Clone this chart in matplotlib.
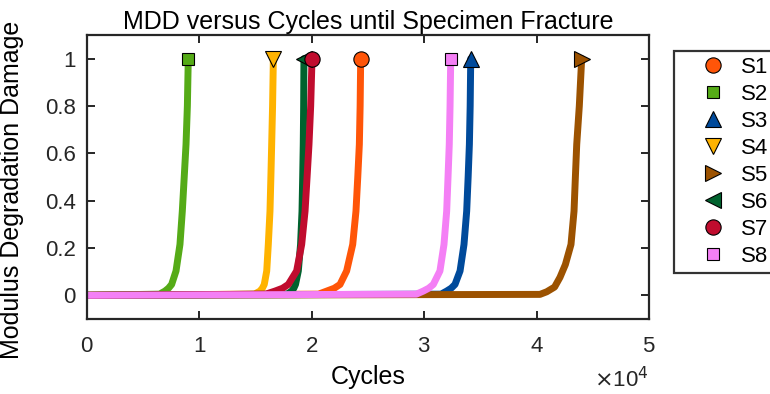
import matplotlib.pyplot as plt
from matplotlib.ticker import MultipleLocator

plt.rcParams['font.family'] = ['Liberation Sans', 'DejaVu Sans']

# values (cycles, damage) for each specimen
s1_cycles = [0, 20600, 21330, 22000, 22510, 23100, 23640, 23930, 24090, 24230, 24300, 24350]
s1_damage = [0, 0.005, 0.018, 0.03, 0.046, 0.103, 0.215, 0.356, 0.5, 0.638, 0.8, 1.0]
s2_cycles = [0, 6450, 6940, 7250, 7530, 7920, 8270, 8480, 8650, 8810, 8930, 9010]
s2_damage = [0, 0.005, 0.018, 0.03, 0.046, 0.103, 0.215, 0.356, 0.5, 0.638, 0.8, 1.0]
s3_cycles = [0, 31500, 32000, 32400, 32740, 33190, 33540, 33780, 33910, 34020, 34090, 34140]
s3_damage = [0, 0.005, 0.018, 0.03, 0.046, 0.103, 0.215, 0.356, 0.5, 0.638, 0.8, 1.0]
s4_cycles = [0, 14900, 15390, 15600, 15770, 15990, 16130, 16280, 16360, 16430, 16510, 16580]
s4_damage = [0, 0.005, 0.018, 0.03, 0.046, 0.103, 0.215, 0.356, 0.5, 0.638, 0.8, 1.0]
s5_cycles = [0, 40300, 40900, 41600, 42080, 42560, 43060, 43330, 43450, 43570, 43800, 44010]
s5_damage = [0, 0.004, 0.015, 0.035, 0.076, 0.13, 0.215, 0.356, 0.5, 0.638, 0.8, 1.0]
s6_cycles = [0, 17800, 18210, 18400, 18550, 18800, 19000, 19130, 19190, 19240, 19275, 19300]
s6_damage = [0, 0.005, 0.018, 0.03, 0.046, 0.103, 0.215, 0.356, 0.5, 0.638, 0.8, 1.0]
s7_cycles = [0, 15900, 16730, 17400, 17910, 18650, 19100, 19400, 19580, 19750, 19900, 20020]
s7_damage = [0, 0.005, 0.018, 0.03, 0.046, 0.103, 0.215, 0.356, 0.5, 0.638, 0.8, 1.0]
s8_cycles = [0, 29300, 29920, 30400, 30810, 31400, 31760, 32000, 32120, 32230, 32300, 32360]
s8_damage = [0, 0.005, 0.018, 0.03, 0.046, 0.103, 0.215, 0.356, 0.5, 0.638, 0.8, 1.0]

labels = ['S1', 'S2', 'S3', 'S4', 'S5', 'S6', 'S7', 'S8']
colors = ['#FF5508', '#55AB17', '#004A9B', '#FFB300',
          '#9C5200', '#00622E', '#C00C2E', '#F47FF5']
markers = ['o', 's', '^', 'v', '>', '<', 'o', 's']
msizes = [11, 8.5, 12, 11, 11, 11, 11, 8.5]

series = [(s1_cycles, s1_damage), (s2_cycles, s2_damage), (s3_cycles, s3_damage),
          (s4_cycles, s4_damage), (s5_cycles, s5_damage), (s6_cycles, s6_damage),
          (s7_cycles, s7_damage), (s8_cycles, s8_damage)]

fig = plt.figure(figsize=(7.7, 3.94), dpi=100)
ax = fig.add_axes([87 / 770, 1 - 319 / 394, 562 / 770, 284 / 394])

for (cyc, dmg), c in zip(series, colors):
    ax.plot(cyc, dmg, color=c, lw=5, solid_capstyle='round', solid_joinstyle='round')

handles = []
for (cyc, dmg), c, m, ms, lab in zip(series, colors, markers, msizes, labels):
    h, = ax.plot(cyc[-1], dmg[-1], ls='none', marker=m, ms=ms, mfc=c,
                 mec='black', mew=0.8, label=lab)
    handles.append(h)

ax.set_xlim(0, 50000)
ax.set_ylim(-0.1, 1.1)
ax.xaxis.set_major_locator(MultipleLocator(10000))
ax.set_yticks([0, 0.2, 0.4, 0.6, 0.8, 1])
ax.set_yticklabels(['0', '0.2', '0.4', '0.6', '0.8', '1'])
ax.ticklabel_format(style='sci', axis='x', scilimits=(4, 4), useMathText=True)
ax.xaxis.get_offset_text().set_visible(False)
ax.text(1.0, -0.215, r'$\times$10$^4$', transform=ax.transAxes, fontsize=16,
        ha='right', va='center', color='#262626')

ax.tick_params(direction='in', length=6, width=1.4, top=True, right=True,
               labelsize=16, colors='#262626', pad=12)
ax.tick_params(axis='y', pad=8)
for sp in ax.spines.values():
    sp.set_linewidth(1.6)
    sp.set_color('#262626')

ax.set_xlabel('Cycles', fontsize=18, labelpad=6)
ax.set_ylabel('Modulus Degradation Damage', fontsize=18, labelpad=6)
ax.yaxis.set_label_coords(-0.112, 0.454)
ax.set_title('MDD versus Cycles until Specimen Fracture', fontsize=18, pad=4)

leg = fig.legend(handles=handles, loc='upper left',
                 bbox_to_anchor=(674 / 770, 1 - 51 / 394), fontsize=16,
                 frameon=True, fancybox=False, borderpad=0.28, handlelength=2.95,
                 handletextpad=-0.2, labelspacing=0.27, borderaxespad=0)
leg.get_frame().set_edgecolor('black')
leg.get_frame().set_linewidth(1.6)

fig.savefig('out.png', dpi=100)
